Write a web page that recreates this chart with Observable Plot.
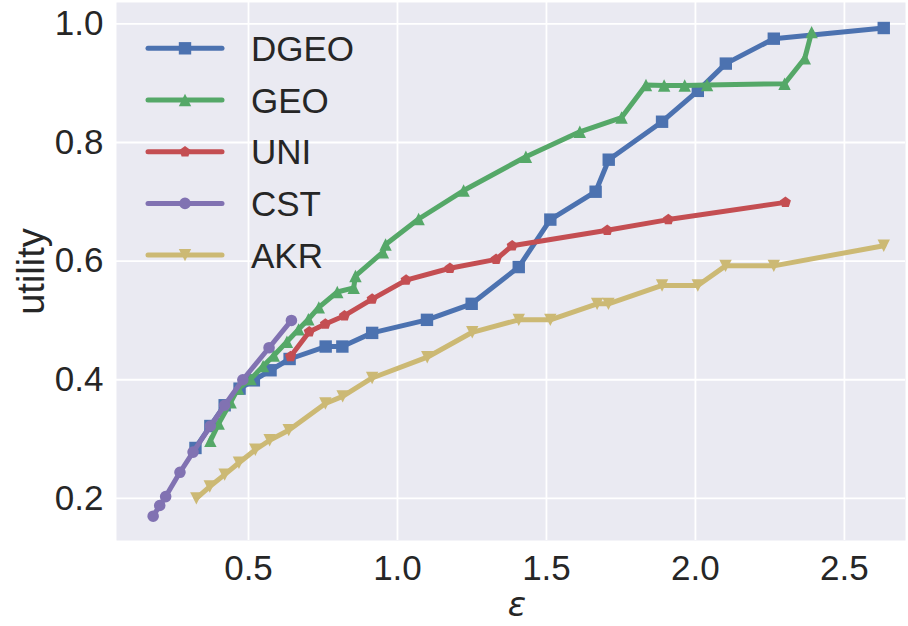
<!DOCTYPE html>
<html>
<head>
<meta charset="utf-8">
<script src="https://cdn.jsdelivr.net/npm/d3@7"></script>
<script src="https://cdn.jsdelivr.net/npm/@observablehq/plot@0.6"></script>
<style>
  html, body { margin: 0; padding: 0; background: #ffffff; }
  #chart { width: 908px; height: 626px; }
</style>
</head>
<body>
<div id="chart"></div>
<script>
// Utility versus privacy budget ε for five mechanisms
const dgeoEps  = [0.322, 0.372, 0.420, 0.470, 0.518, 0.574, 0.638, 0.759, 0.815, 0.915, 1.099, 1.249, 1.407, 1.513, 1.665, 1.709, 1.888, 2.008, 2.102, 2.263, 2.632];
const dgeoUtil = [0.285, 0.322, 0.357, 0.385, 0.399, 0.416, 0.435, 0.456, 0.456, 0.479, 0.501, 0.528, 0.590, 0.670, 0.717, 0.771, 0.835, 0.887, 0.933, 0.975, 0.993];

const geoEps  = [0.372, 0.400, 0.440, 0.465, 0.507, 0.549, 0.585, 0.629, 0.668, 0.701, 0.736, 0.798, 0.853, 0.859, 0.951, 0.960, 1.071, 1.222, 1.431, 1.612, 1.752, 1.834, 1.895, 1.964, 2.039, 2.299, 2.367, 2.390];
const geoUtil = [0.297, 0.326, 0.362, 0.385, 0.401, 0.423, 0.441, 0.464, 0.485, 0.502, 0.522, 0.548, 0.555, 0.575, 0.615, 0.628, 0.671, 0.719, 0.776, 0.818, 0.842, 0.897, 0.896, 0.896, 0.897, 0.899, 0.942, 0.986];

const uniEps  = [0.641, 0.704, 0.758, 0.822, 0.915, 1.029, 1.176, 1.331, 1.385, 1.704, 1.909, 2.302];
const uniUtil = [0.439, 0.481, 0.494, 0.508, 0.536, 0.568, 0.588, 0.603, 0.626, 0.652, 0.670, 0.699];

const cstEps  = [0.180, 0.202, 0.222, 0.270, 0.314, 0.372, 0.420, 0.481, 0.569, 0.644];
const cstUtil = [0.170, 0.188, 0.203, 0.244, 0.278, 0.322, 0.357, 0.400, 0.454, 0.500];

const akrEps  = [0.325, 0.370, 0.420, 0.468, 0.523, 0.571, 0.635, 0.758, 0.816, 0.915, 1.100, 1.251, 1.407, 1.513, 1.670, 1.708, 1.888, 2.008, 2.101, 2.263, 2.632];
const akrUtil = [0.200, 0.220, 0.240, 0.260, 0.282, 0.298, 0.315, 0.360, 0.372, 0.403, 0.438, 0.480, 0.501, 0.501, 0.528, 0.528, 0.559, 0.559, 0.592, 0.592, 0.626];

const seriesNames = ["DGEO", "GEO", "UNI", "CST", "AKR"];
const xTicks = [0.5, 1.0, 1.5, 2.0, 2.5];
const yTicks = [0.2, 0.4, 0.6, 0.8, 1.0];

// Marker shapes; the radius is recovered from the area Plot passes in.
const rad = size => Math.sqrt(size / Math.PI);
const squareSym = { draw(c, s) { const r = rad(s); c.rect(-r, -r, 2 * r, 2 * r); } };
const triUpSym = { draw(c, s) { const r = rad(s); c.moveTo(0, -r); c.lineTo(r, r); c.lineTo(-r, r); c.closePath(); } };
const triDownSym = { draw(c, s) { const r = rad(s); c.moveTo(0, r); c.lineTo(-r, -r); c.lineTo(r, -r); c.closePath(); } };
const circleSym = { draw(c, s) { const r = rad(s); c.moveTo(r, 0); c.arc(0, 0, r, 0, 2 * Math.PI); } };
const pentagonSym = { draw(c, s) {
  const r = rad(s);
  for (let i = 0; i < 5; i++) {
    const a = -Math.PI / 2 + i * 2 * Math.PI / 5;
    const px = r * Math.cos(a), py = r * Math.sin(a);
    if (i === 0) c.moveTo(px, py); else c.lineTo(px, py);
  }
  c.closePath();
} };

const zip = (xs, ys) => xs.map((x, i) => ({eps: x, util: ys[i]}));
const series = [
  {name: seriesNames[0], color: "#4C72B0", symbol: squareSym,   r: 6.2, data: zip(dgeoEps, dgeoUtil)},
  {name: seriesNames[1], color: "#55A868", symbol: triUpSym,    r: 6.2, data: zip(geoEps, geoUtil)},
  {name: seriesNames[2], color: "#C44E52", symbol: pentagonSym, r: 5.8, data: zip(uniEps, uniUtil)},
  {name: seriesNames[3], color: "#8172B2", symbol: circleSym,   r: 5.8, data: zip(cstEps, cstUtil)},
  {name: seriesNames[4], color: "#CCB974", symbol: triDownSym,  r: 6.2, data: zip(akrEps, akrUtil)}
];

const FONT = "'Liberation Sans', Arial, 'DejaVu Sans', sans-serif";
const LINE_W = 5;

const marks = [
  Plot.frame({fill: "#EAEAF2", stroke: null}),
  Plot.gridX(xTicks, {stroke: "#ffffff", strokeOpacity: 1, strokeWidth: 1.8}),
  Plot.gridY(yTicks, {stroke: "#ffffff", strokeOpacity: 1, strokeWidth: 1.8}),
  Plot.axisX(xTicks, {tickSize: 0, tickPadding: 15, tickFormat: d3.format(".1f"), fontSize: 35, fill: "#262626", label: null}),
  Plot.axisY(yTicks, {tickSize: 0, tickPadding: 13, tickFormat: d3.format(".1f"), fontSize: 35, fill: "#262626", label: null}),
];
for (const s of series) {
  marks.push(Plot.line(s.data, {x: "eps", y: "util", stroke: s.color, strokeWidth: LINE_W, strokeLinecap: "round", strokeLinejoin: "round"}));
  marks.push(Plot.dot(s.data, {x: "eps", y: "util", symbol: () => s.symbol, r: s.r, fill: s.color, stroke: null}));
}
marks.push(
  Plot.text(["utility"], {frameAnchor: "left", dx: -85, rotate: -90, fontSize: 38, fill: "#262626", textAnchor: "middle", lineAnchor: "middle"}),
  Plot.text(["ε"], {frameAnchor: "bottom", dx: 6, dy: 65, fontSize: 34, fontStyle: "italic", fontFamily: "'DejaVu Sans', sans-serif", fill: "#262626", textAnchor: "middle", lineAnchor: "middle"})
);

const chart = Plot.plot({
  width: 908,
  height: 626,
  marginLeft: 116,
  marginRight: 3,
  marginTop: 2,
  marginBottom: 86,
  style: {fontFamily: FONT, background: "#ffffff", overflow: "visible"},
  x: {domain: [0.057, 2.705]},
  y: {domain: [0.129, 1.036]},
  symbol: {type: "identity"},
  marks
});

// Legend in the upper-left corner of the plotting area: line sample, marker, label
const legend = d3.select(chart).append("g").attr("font-family", FONT).attr("text-anchor", "start");
series.forEach((s, i) => {
  const cy = 48.3 + i * 51.7;
  const row = legend.append("g").attr("transform", `translate(0,${cy})`);
  row.append("line").attr("x1", 148).attr("x2", 222).attr("y1", 0).attr("y2", 0)
    .attr("stroke", s.color).attr("stroke-width", LINE_W).attr("stroke-linecap", "round");
  row.append("path").attr("transform", "translate(185,0)")
    .attr("d", d3.symbol(s.symbol, s.r * s.r * Math.PI)()).attr("fill", s.color);
  row.append("text").attr("x", 251).attr("y", 0).attr("dy", "0.36em")
    .attr("text-anchor", "start").attr("font-size", 35).attr("fill", "#262626").text(s.name);
});

document.getElementById("chart").appendChild(chart);
</script>
</body>
</html>
